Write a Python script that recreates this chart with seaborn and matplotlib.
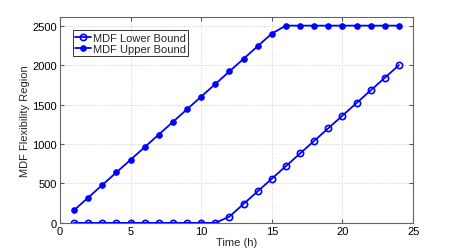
import numpy as np
import pandas as pd
import matplotlib
matplotlib.use("Agg")
import matplotlib.pyplot as plt
import seaborn as sns

# dati
hours = list(range(1, 25))
lower_bound = [0, 0, 0, 0, 0, 0, 0, 0, 0, 0, 0, 80, 240, 400, 560, 720,
               880, 1040, 1200, 1360, 1520, 1680, 1840, 2000]
upper_bound = [160, 320, 480, 640, 800, 960, 1120, 1280, 1440, 1600, 1760,
               1920, 2080, 2240, 2400, 2500, 2500, 2500, 2500, 2500, 2500,
               2500, 2500, 2500]

df = pd.DataFrame({
    "Time": hours * 2,
    "Value": lower_bound + upper_bound,
    "Series": ["MDF Lower Bound"] * 24 + ["MDF Upper Bound"] * 24,
})

sns.set_style("whitegrid")
plt.rcParams['font.family'] = ['Liberation Sans', 'DejaVu Sans']

fig = plt.figure(figsize=(4.57, 2.53), dpi=100)
ax = fig.add_axes([0.131, 0.115, 0.773, 0.814])

blue = "#0000ff"
sns.lineplot(data=df[df["Series"] == "MDF Lower Bound"], x="Time", y="Value",
             ax=ax, color=blue, marker="o", markersize=4.5, markerfacecolor="none",
             markeredgecolor=blue, markeredgewidth=1.2, linewidth=1.3,
             label="MDF Lower Bound")
sns.lineplot(data=df[df["Series"] == "MDF Upper Bound"], x="Time", y="Value",
             ax=ax, color=blue, marker="o", markersize=4, markerfacecolor=blue,
             markeredgecolor=blue, linewidth=1.3, label="MDF Upper Bound")

ax.set_xlim(0, 25)
ax.set_ylim(0, 2610)
ax.set_xticks([0, 5, 10, 15, 20, 25])
ax.set_yticks([0, 500, 1000, 1500, 2000, 2500])
ax.set_xlabel("Time (h)", fontsize=8, labelpad=1)
ax.set_ylabel("MDF Flexibility Region", fontsize=8, labelpad=2)
ax.tick_params(labelsize=8, direction="in", length=3, top=True, right=True,
               bottom=True, left=True, pad=2, colors="#555555", labelcolor="black")
ax.grid(True, linestyle=":", color="#d0d0d0", linewidth=0.7)
for s in ax.spines.values():
    s.set_color("#666666")
    s.set_linewidth(0.8)

leg = ax.legend(loc="upper left", fontsize=8, frameon=True, fancybox=False,
                borderpad=0.2, handlelength=1.4, handletextpad=0.2,
                labelspacing=0.15, borderaxespad=1.2)
leg.get_frame().set_edgecolor("#333333")
leg.get_frame().set_linewidth(0.7)
leg.get_frame().set_alpha(1)

fig.savefig("out.png", dpi=100)
